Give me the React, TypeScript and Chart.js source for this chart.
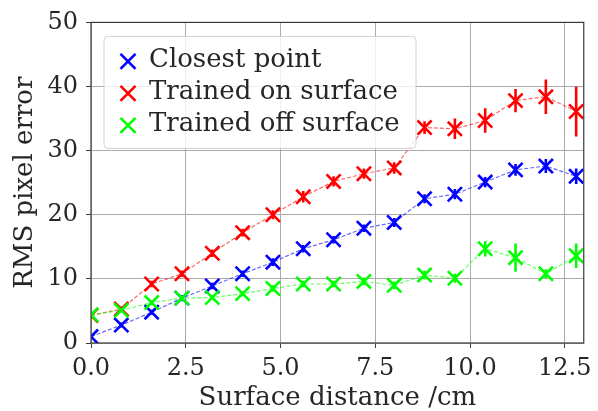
import { useEffect, useRef } from "react";
import { Chart, registerables } from "chart.js";

Chart.register(...registerables);

const distances = [0, 0.8, 1.6, 2.4, 3.2, 4.0, 4.8, 5.6, 6.4, 7.2, 8.0, 8.8, 9.6, 10.4, 11.2, 12.0, 12.8];

const closestPoint = [1.0, 2.8, 4.8, 7.0, 8.9, 10.8, 12.6, 14.7, 16.1, 17.9, 18.8, 22.5, 23.2, 25.1, 27.0, 27.6, 26.0];
const closestErr = [0.3, 0.4, 0.4, 0.5, 0.5, 0.5, 0.6, 0.6, 0.6, 0.6, 0.7, 0.7, 0.8, 0.8, 0.9, 1.1, 1.2];

const trainedOn = [4.3, 5.3, 9.2, 10.8, 14.0, 17.2, 20.0, 22.8, 25.2, 26.4, 27.3, 33.6, 33.4, 34.7, 37.8, 38.4, 36.1];
const trainedOnErr = [0.3, 0.4, 0.5, 0.5, 0.6, 0.6, 0.7, 0.9, 0.8, 0.8, 0.9, 1.0, 1.6, 1.9, 1.8, 2.7, 3.9];

const trainedOff = [4.4, 5.1, 6.3, 7.0, 7.1, 7.7, 8.5, 9.2, 9.2, 9.6, 9.0, 10.6, 10.1, 14.7, 13.3, 10.8, 13.6];
const trainedOffErr = [0.3, 0.3, 0.4, 0.4, 0.4, 0.4, 0.5, 0.5, 0.5, 0.6, 0.6, 0.7, 0.7, 1.2, 2.2, 0.7, 1.9];

const seriesLabels = ["Closest point", "Trained on surface", "Trained off surface"];
const seriesColors = ["#0000ff", "#ff0000", "#00ff00"];
const seriesLineColors = ["rgba(0,0,255,0.6)", "rgba(255,0,0,0.6)", "rgba(0,255,0,0.6)"];

const xTickValues = [0, 2.5, 5, 7.5, 10, 12.5];
const yTickValues = [0, 10, 20, 30, 40, 50];

const xTitle = "Surface distance /cm";
const yTitle = "RMS pixel error";

const FONT = "'DejaVu Serif', serif";
const TEXT = "#262626";
const GRID = "#ababab";
const SPINE = "#3a3a3a";

export default function App() {
  const ref = useRef<HTMLCanvasElement>(null);

  useEffect(() => {
    const canvas = ref.current;
    if (!canvas) return;

    const values = [closestPoint, trainedOn, trainedOff];
    const errors = [closestErr, trainedOnErr, trainedOffErr];

    const datasets = values.map((vals, i) => ({
      label: seriesLabels[i],
      data: distances.map((x, j) => ({ x, y: vals[j] })),
      borderColor: seriesLineColors[i],
      backgroundColor: seriesColors[i],
      borderWidth: 1.2,
      borderDash: [4, 2],
      pointStyle: "crossRot" as const,
      pointRadius: 10,
      pointBorderWidth: 2.6,
      pointBorderColor: seriesColors[i],
      pointBackgroundColor: seriesColors[i],
      tension: 0,
      order: 2 - i,
    }));

    const errorBars = {
      id: "errorBars",
      afterDatasetDraw(chart: any, args: any) {
        const i = args.index;
        const { ctx, chartArea } = chart;
        const xs = chart.scales.x;
        const ys = chart.scales.y;
        ctx.save();
        ctx.beginPath();
        ctx.rect(chartArea.left, chartArea.top, chartArea.right - chartArea.left, chartArea.bottom - chartArea.top);
        ctx.clip();
        ctx.strokeStyle = seriesColors[i];
        ctx.lineWidth = 2.6;
        values[i].forEach((v, j) => {
          const px = xs.getPixelForValue(distances[j]);
          ctx.beginPath();
          ctx.moveTo(px, ys.getPixelForValue(v - errors[i][j]));
          ctx.lineTo(px, ys.getPixelForValue(v + errors[i][j]));
          ctx.stroke();
        });
        ctx.restore();
      },
    };

    const frame = {
      id: "frame",
      afterDatasetsDraw(chart: any) {
        const { ctx, chartArea } = chart;
        ctx.save();
        ctx.strokeStyle = SPINE;
        ctx.lineWidth = 1.2;
        ctx.strokeRect(chartArea.left, chartArea.top, chartArea.right - chartArea.left, chartArea.bottom - chartArea.top);
        ctx.restore();
      },
    };

    const legendBox = {
      id: "legendBox",
      afterDraw(chart: any) {
        const { ctx, chartArea } = chart;
        const left = chartArea.left + 13;
        const top = chartArea.top + 14;
        const w = 312;
        const h = 112;
        ctx.save();
        ctx.beginPath();
        ctx.roundRect(left, top, w, h, 4);
        ctx.fillStyle = "rgba(255,255,255,0.8)";
        ctx.fill();
        ctx.strokeStyle = "#d0d0d0";
        ctx.lineWidth = 1;
        ctx.stroke();
        ctx.font = `26px ${FONT}`;
        ctx.textBaseline = "middle";
        ctx.textAlign = "left";
        seriesLabels.forEach((label, i) => {
          const cy = top + 25 + i * 32;
          const cx = left + 24;
          const r = 7.5;
          ctx.strokeStyle = seriesColors[i];
          ctx.lineWidth = 2.6;
          ctx.beginPath();
          ctx.moveTo(cx - r, cy - r);
          ctx.lineTo(cx + r, cy + r);
          ctx.moveTo(cx - r, cy + r);
          ctx.lineTo(cx + r, cy - r);
          ctx.stroke();
          ctx.fillStyle = TEXT;
          ctx.fillText(label, left + 45, cy - 1);
        });
        ctx.restore();
      },
    };

    const chart = new Chart(canvas, {
      type: "line",
      data: { datasets },
      options: {
        animation: false,
        responsive: false,
        layout: { padding: { top: 19, right: 9, left: 0, bottom: 0 } },
        plugins: { legend: { display: false }, tooltip: { enabled: false } },
        scales: {
          x: {
            type: "linear",
            min: 0,
            max: 13,
            afterBuildTicks: (s: any) => {
              s.ticks = xTickValues.map((v) => ({ value: v }));
            },
            afterFit: (s: any) => {
              s.height = 68;
            },
            ticks: {
              font: { family: FONT, size: 24 },
              color: TEXT,
              padding: 6,
              maxRotation: 0,
              autoSkip: false,
              callback: (v: any) => Number(v).toFixed(1),
            },
            grid: { color: GRID, lineWidth: 1, tickLength: 5, tickColor: SPINE },
            border: { display: false },
            title: {
              display: true,
              text: xTitle,
              font: { family: FONT, size: 26, lineHeight: 1 },
              color: TEXT,
              padding: { top: 0, bottom: 0 },
            },
          },
          y: {
            type: "linear",
            min: 0,
            max: 50,
            afterBuildTicks: (s: any) => {
              s.ticks = yTickValues.map((v) => ({ value: v }));
            },
            afterFit: (s: any) => {
              s.width = 91;
            },
            ticks: {
              font: { family: FONT, size: 24 },
              color: TEXT,
              padding: 8,
              autoSkip: false,
            },
            grid: { color: GRID, lineWidth: 1, tickLength: 5, tickColor: SPINE },
            border: { display: false },
            title: {
              display: true,
              text: yTitle,
              font: { family: FONT, size: 26, lineHeight: 1 },
              color: TEXT,
              padding: { top: 12, bottom: 0 },
            },
          },
        },
      },
      plugins: [errorBars, frame, legendBox],
    });

    return () => chart.destroy();
  }, []);

  return (
    <div style={{ position: "fixed", left: 0, top: 0, width: 598, height: 411, background: "#fff" }}>
      <canvas ref={ref} width={598} height={411} style={{ display: "block" }} />
    </div>
  );
}
